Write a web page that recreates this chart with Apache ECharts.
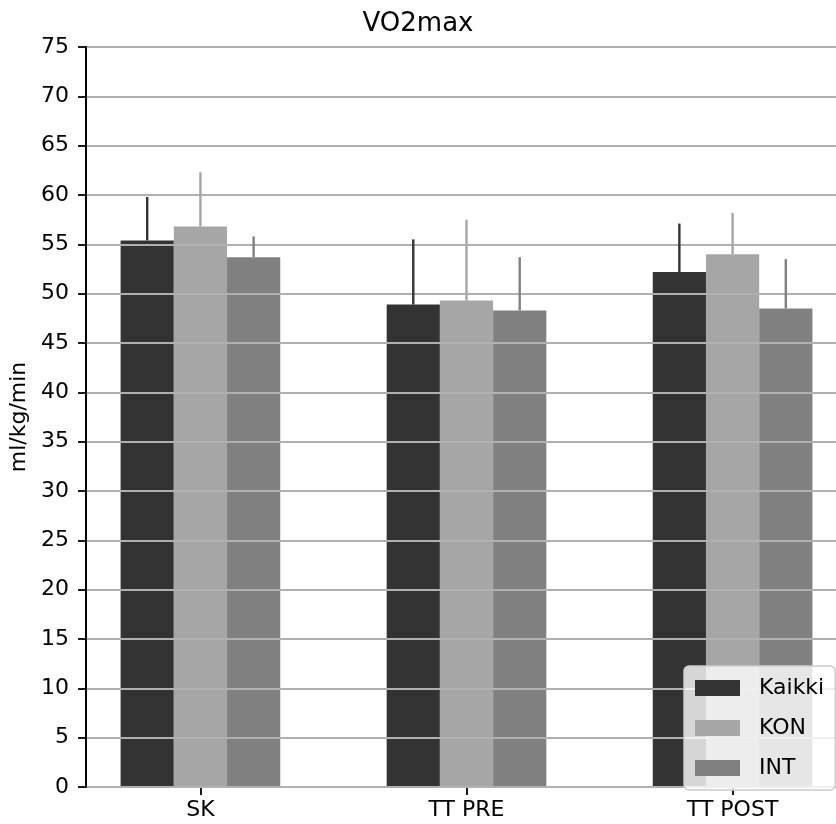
<!DOCTYPE html>
<html>
<head>
<meta charset="utf-8">
<title>VO2max</title>
<script src="https://cdn.jsdelivr.net/npm/echarts@6/dist/echarts.min.js"></script>
<style>
  html, body { margin: 0; padding: 0; background: #fff; }
  #chart { width: 836px; height: 824px; }
</style>
</head>
<body>
<div id="chart"></div>
<script>
// Test points along the x axis
const categories = ['SK', 'TT PRE', 'TT POST'];

// Group names shown in the legend
const groupNames = ['Kaikki', 'KON', 'INT'];

// Mean VO2max (ml/kg/min) per group at each test point
const kaikkiMean = [55.4, 48.9, 52.2];
const konMean    = [56.8, 49.3, 54.0];
const intMean    = [53.7, 48.3, 48.5];

// Standard deviations drawn as error bars
const kaikkiSd = [4.4, 6.6, 4.9];
const konSd    = [5.5, 8.2, 4.2];
const intSd    = [2.1, 5.4, 5.0];

// Y axis ticks
const yTicks = [0, 5, 10, 15, 20, 25, 30, 35, 40, 45, 50, 55, 60, 65, 70, 75];

const colors = ['#333333', '#a6a6a6', '#808080'];
const means = [kaikkiMean, konMean, intMean];
const sds = [kaikkiSd, konSd, intSd];
const barWidth = 0.2;
const offsets = [-0.2, 0, 0.2];
const FONT = 'DejaVu Sans';

const chart = echarts.init(document.getElementById('chart'), null, { renderer: 'canvas' });

function barSeries(g) {
  return {
    name: groupNames[g],
    type: 'custom',
    z: 1,
    itemStyle: { color: colors[g] },
    data: categories.map((c, i) => [i + offsets[g], means[g][i]]),
    encode: { x: 0, y: 1 },
    renderItem: function (params, api) {
      const x = api.value(0);
      const v = api.value(1);
      const p0 = api.coord([x - barWidth / 2, v]);
      const p1 = api.coord([x + barWidth / 2, 0]);
      return {
        type: 'rect',
        shape: { x: p0[0], y: p0[1], width: p1[0] - p0[0], height: p1[1] - p0[1] },
        style: { fill: colors[g] }
      };
    }
  };
}

// Upper half of each error bar, from the bar top to mean + sd
function errSeries(g) {
  return {
    name: groupNames[g] + ' sd',
    type: 'custom',
    z: 3,
    silent: true,
    data: categories.map((c, i) => [i + offsets[g], means[g][i], sds[g][i]]),
    encode: { x: 0, y: 1 },
    renderItem: function (params, api) {
      const x = api.value(0);
      const v = api.value(1);
      const e = api.value(2);
      const top = api.coord([x, v + e]);
      const bot = api.coord([x, v]);
      return {
        type: 'line',
        shape: { x1: top[0], y1: top[1], x2: bot[0], y2: bot[1] },
        style: { stroke: colors[g], lineWidth: 2.4 }
      };
    }
  };
}

const option = {
  animation: false,
  backgroundColor: '#ffffff',
  title: {
    text: 'VO2max',
    left: 'center',
    top: 6,
    textStyle: { fontFamily: FONT, fontSize: 26, fontWeight: 'normal', color: '#000' }
  },
  legend: {
    orient: 'vertical',
    left: 684,
    top: 666,
    data: groupNames,
    itemWidth: 45,
    itemHeight: 16,
    itemGap: 18,
    padding: [11, 11, 11, 11],
    backgroundColor: 'rgba(255,255,255,0.8)',
    borderColor: '#cccccc',
    borderWidth: 1.5,
    borderRadius: 5,
    icon: 'rect',
    z: 10,
    textStyle: { fontFamily: FONT, fontSize: 22, color: '#000', padding: [0, 0, 0, 14] }
  },
  grid: {
    left: 86,
    top: 47,
    width: 761,
    height: 740,
    outerBoundsMode: 'none',
    containLabel: false,
    show: true,
    borderColor: '#000',
    borderWidth: 1.8,
    backgroundColor: 'transparent'
  },
  xAxis: {
    type: 'value',
    min: -0.43,
    max: 2.43,
    splitLine: { show: false },
    axisLine: { show: true, onZero: false, lineStyle: { color: '#000', width: 1.8 } },
    axisTick: {
      show: true,
      customValues: [0, 1, 2],
      length: 8,
      lineStyle: { color: '#000', width: 1.8 }
    },
    axisLabel: {
      customValues: [0, 1, 2],
      margin: 12,
      fontFamily: FONT,
      fontSize: 22,
      color: '#000',
      formatter: function (v) { return categories[Math.round(v)]; }
    }
  },
  yAxis: {
    type: 'value',
    min: yTicks[0],
    max: yTicks[yTicks.length - 1],
    interval: 5,
    z: 2,
    name: 'ml/kg/min',
    nameLocation: 'middle',
    nameGap: 54,
    nameTextStyle: { fontFamily: FONT, fontSize: 22, color: '#000' },
    axisLine: { show: true, onZero: false, lineStyle: { color: '#000', width: 1.8 } },
    axisTick: { show: true, length: 8, lineStyle: { color: '#000', width: 1.8 } },
    axisLabel: { margin: 17, fontFamily: FONT, fontSize: 22, color: '#000' },
    splitLine: { show: true, lineStyle: { color: '#b0b0b0', width: 1.8 } }
  },
  series: [0, 1, 2].map(barSeries).concat([0, 1, 2].map(errSeries))
};

chart.setOption(option);
</script>
</body>
</html>
